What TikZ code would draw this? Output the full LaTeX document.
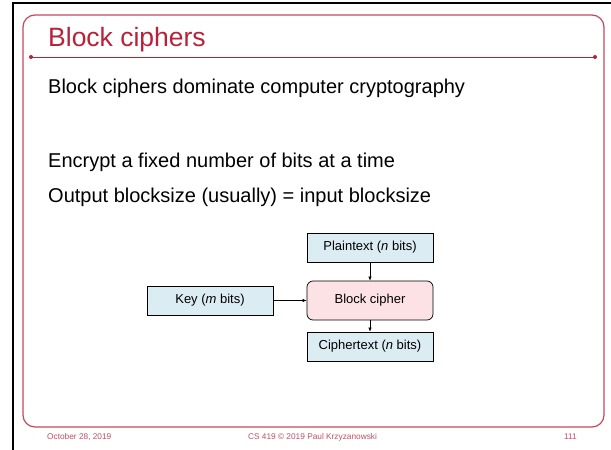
\documentclass[tikz,border=0pt]{standalone}
\usepackage{fontspec}
\setmainfont{Liberation Sans}
\usetikzlibrary{arrows.meta}

\definecolor{slidered}{RGB}{186,32,56}
\definecolor{framered}{RGB}{200,70,90}
\definecolor{boxblue}{RGB}{220,236,243}
\definecolor{boxpink}{RGB}{252,226,228}

\begin{document}
\begin{tikzpicture}
	[x=1pt, y=-1pt,
	title/.style ={anchor=base west, inner sep=0pt, text=slidered, font=\fontsize{26.5}{30}\selectfont},
	body/.style ={anchor=base west, inner sep=0pt, font=\fontsize{20}{24}\selectfont},
	foot/.style ={anchor=base, inner sep=0pt, text=slidered!80, font=\fontsize{8.3}{10}\selectfont},
	data/.style ={rectangle, draw=black, line width=0.7pt, fill=boxblue, minimum width=126pt, minimum height=29pt, inner sep=0pt, font=\fontsize{13}{15}\selectfont},
	cipher/.style ={rectangle, draw=black, line width=0.7pt, fill=boxpink, rounded corners=6pt, minimum width=126pt, minimum height=39pt, inner sep=0pt, font=\fontsize{13}{15}\selectfont},
	line/.style ={draw, line width=0.6pt, -{Latex[length=4pt,width=3.5pt]}}]
	\useasboundingbox (0,0) rectangle (611,450);
	% slide frame
	\draw[line width=2pt] (13,450) -- (13,3) -- (611,3);
	\draw[framered, line width=1.2pt, rounded corners=12pt] (23,15) rectangle (604,427);
	\draw[slidered, line width=1pt] (31,57) -- (595,57);
	\fill[slidered] (31,57) circle (2) (595,57) circle (2);
	% text
	\node[title] (head) at (48,46) {Block ciphers};
	\node[body] (t1) at (48,93) {Block ciphers dominate computer cryptography};
	\node[body] (t2) at (48,167) {Encrypt a fixed number of bits at a time};
	\node[body] (t3) at (48,202) {Output blocksize (usually) = input blocksize};
	% diagram
	\node[data] (plain) at (370,247.5) {Plaintext (\textit{n} bits)};
	\node[cipher] (bc) at (370,300.5) {Block cipher};
	\node[data] (key) at (210,300.5) {Key (\textit{m} bits)};
	\node[data] (ctext) at (370,346.5) {Ciphertext (\textit{n} bits)};
	\draw[line] (plain) -- (bc);
	\draw[line] (key) -- (bc);
	\draw[line] (bc) -- (ctext);
	% footer
	\node[foot, anchor=base west] (date) at (47,439) {October 28, 2019};
	\node[foot] (course) at (312.5,439) {CS 419 \textcopyright{} 2019 Paul Krzyzanowski};
	\node[foot, anchor=base east] (page) at (577,439) {111};
\end{tikzpicture}
\end{document}
